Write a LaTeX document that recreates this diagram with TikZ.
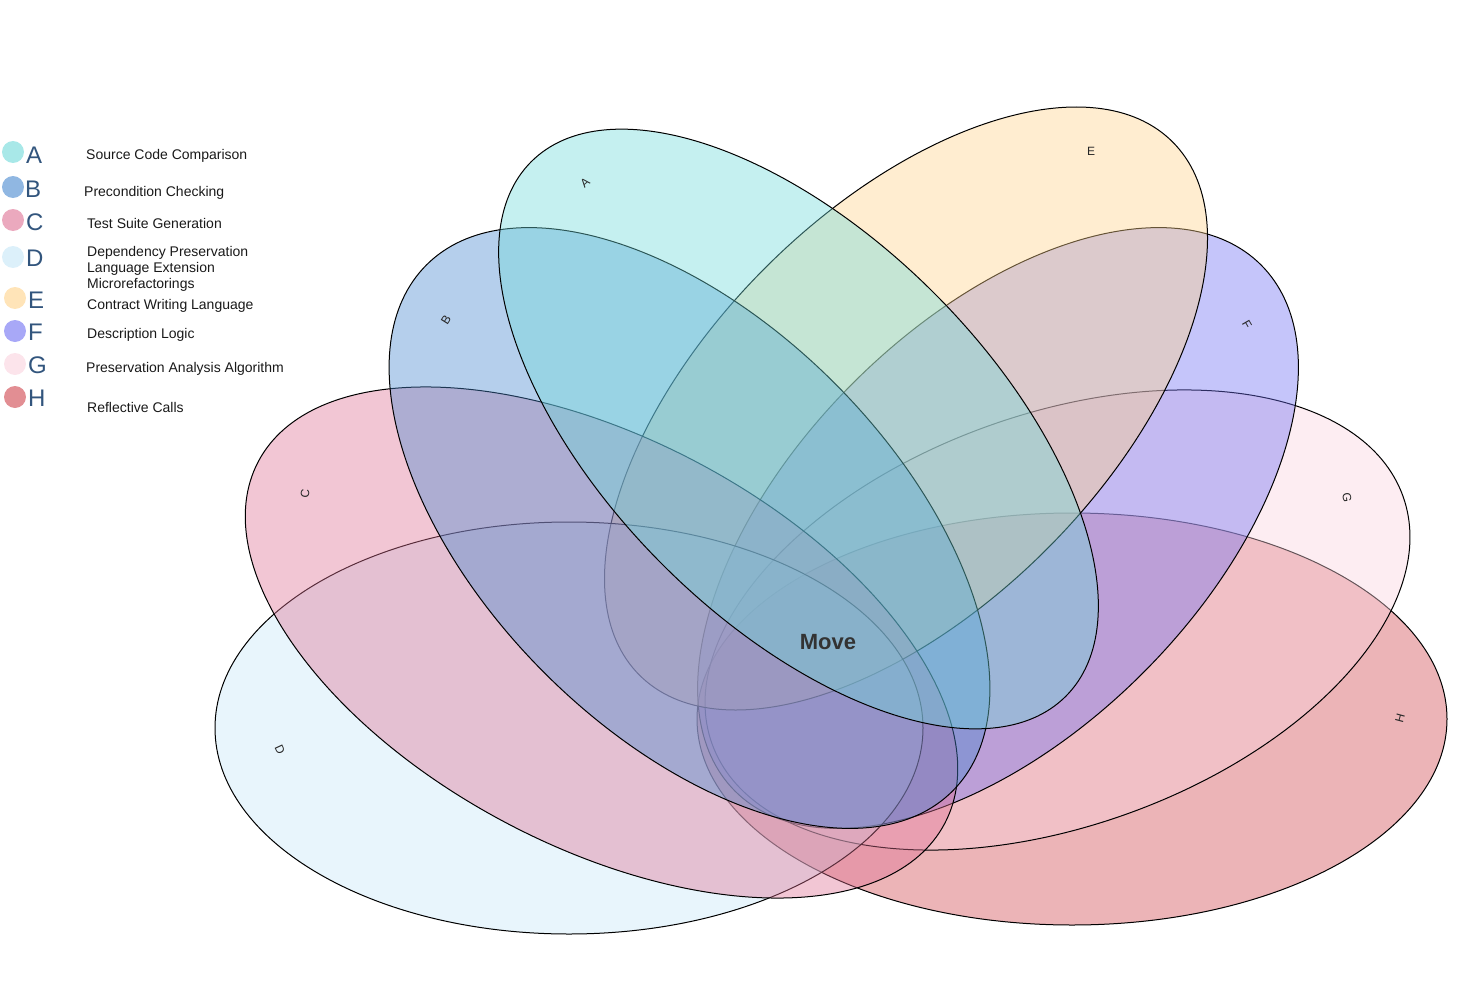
\documentclass[tikz,border=0pt]{standalone}
\usepackage{fontspec}
\setmainfont{Liberation Sans}
\begin{document}
\begin{tikzpicture}[x=1pt,y=-1pt]
\useasboundingbox (0,0) rectangle (1472,1006);
\definecolor{cA}{RGB}{110,217,217}
\definecolor{cB}{RGB}{70,135,207}
\definecolor{cC}{RGB}{222,112,147}
\definecolor{cD}{RGB}{197,230,247}
\definecolor{cE}{RGB}{255,210,137}
\definecolor{cF}{RGB}{110,110,242}
\definecolor{cG}{RGB}{250,210,222}
\definecolor{cH}{RGB}{207,67,75}
\definecolor{legtxt}{RGB}{50,85,125}
\tikzset{
  venn/.style={draw=black, line width=1pt, fill opacity=0.4},
  lbl/.style={font=\fontsize{12}{14}\selectfont, text=black!85, inner sep=0pt},
  legletter/.style={font=\fontsize{24}{28}\selectfont, text=legtxt, anchor=west, inner sep=0pt},
  legtext/.style={font=\fontsize{14}{16}\selectfont, text=black!90, anchor=west, inner sep=0pt, align=left},
  legdot/.style={radius=11pt},
  dot/.style={fill opacity=0.6}
}
% ellipses (drawn from H back to A)
\path[venn, fill=cH] (1072,719) ellipse [x radius=375pt, y radius=206pt];
\path[venn, fill=cG, rotate around={19.7:(1057.5,620)}] (1057.5,620) ellipse [x radius=367pt, y radius=206pt];
\path[venn, fill=cF, rotate around={45:(998,528)}] (998,528) ellipse [x radius=372pt, y radius=205pt];
\path[venn, fill=cE, rotate around={45:(906,408.5)}] (906,408.5) ellipse [x radius=377pt, y radius=199pt];
\path[venn, fill=cD] (569,728) ellipse [x radius=354pt, y radius=206pt];
\path[venn, fill=cC, rotate around={-27.8:(601.5,642.5)}] (601.5,642.5) ellipse [x radius=388pt, y radius=204pt];
\path[venn, fill=cB, rotate around={-45:(689.5,528)}] (689.5,528) ellipse [x radius=372pt, y radius=205pt];
\path[venn, fill=cA, rotate around={-45:(798.5,429)}] (798.5,429) ellipse [x radius=378pt, y radius=192pt];
% ellipse labels
\node[lbl, rotate=40] (la) at (585,183) {A};
\node[lbl, rotate=58] (lb) at (446,320) {B};
\node[lbl, rotate=83] (lc) at (305,494) {C};
\node[lbl, rotate=-65] (ld) at (280,750) {D};
\node[lbl] (le) at (1091,151) {E};
\node[lbl, rotate=-60] (lf) at (1247,325) {F};
\node[lbl, rotate=-83] (lg) at (1347,498) {G};
\node[lbl, rotate=75] (lh) at (1400,718) {H};
\node[font=\bfseries\fontsize{22}{26}\selectfont, text=black!80] (move) at (828,642) {Move};
% legend
\fill[cA, dot] (13,152) circle [legdot];
\fill[cB, dot] (13,187) circle [legdot];
\fill[cC, dot] (13,220) circle [legdot];
\fill[cD, dot] (13,257) circle [legdot];
\fill[cE, dot] (15,298) circle [legdot];
\fill[cF, dot] (15,331) circle [legdot];
\fill[cG, dot] (15,364) circle [legdot];
\fill[cH, dot] (15,397) circle [legdot];
\node[legletter] (ka) at (26,155) {A};
\node[legletter] (kb) at (25,189) {B};
\node[legletter] (kc) at (26,222) {C};
\node[legletter] (kd) at (26,258) {D};
\node[legletter] (ke) at (28,300) {E};
\node[legletter] (kf) at (28,332) {F};
\node[legletter] (kg) at (28,365) {G};
\node[legletter] (kh) at (28,398) {H};
\node[legtext] (ta) at (86,155.5) {Source Code Comparison};
\node[legtext] (tb) at (84,192.5) {Precondition Checking};
\node[legtext] (tc) at (87,223.5) {Test Suite Generation};
\node[legtext] (td) at (87,268.5) {Dependency Preservation\\Language Extension\\Microrefactorings};
\node[legtext] (te) at (87,305.5) {Contract Writing Language};
\node[legtext] (tf) at (87,334.5) {Description Logic};
\node[legtext] (tg) at (86,368.5) {Preservation Analysis Algorithm};
\node[legtext] (th) at (87,407.5) {Reflective Calls};
\end{tikzpicture}
\end{document}
